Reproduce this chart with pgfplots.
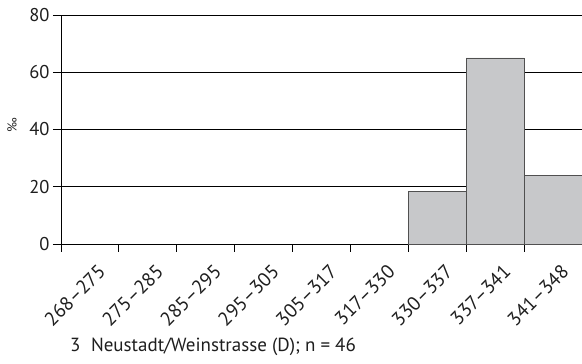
\documentclass[border=0pt]{standalone}
\usepackage{fontspec}
\setmainfont{PT Sans}
\usepackage{pgfplots}
\pgfplotsset{compat=1.18}
\definecolor{barfill}{RGB}{199,200,202}
\definecolor{bardraw}{RGB}{80,80,80}
\definecolor{txt}{RGB}{30,30,30}
\begin{document}
\begin{tikzpicture}
\begin{axis}[
  scale only axis,
  width=521pt, height=229pt,
  xmin=0, xmax=9, ymin=0, ymax=80,
  axis x line=bottom, axis y line=left,
  axis line style={-, black, line width=0.8pt},
  tick align=outside,
  major tick length=8pt,
  tick style={black, line width=0.8pt},
  xtick={0,1,2,3,4,5,6,7,8,9},
  xticklabels={268–275,275–285,285–295,295–305,305–317,317–330,330–337,337–341,341–348,},
  x tick label as interval,
  xticklabel style={xshift=7pt, yshift=-11pt, rotate=45, anchor=north east, font=\fontsize{19.5}{21}\selectfont, inner sep=0pt, text=txt},
  ytick={0,20,40,60,80},
  yticklabel style={font=\fontsize{18.5}{20}\selectfont, text=txt},
  ymajorgrids,
  grid style={black, line width=0.8pt},
  /pgf/number format/assume math mode=true,
  clip=false,
]
\addplot[ybar interval, fill=barfill, draw=bardraw, line width=0.8pt] coordinates {(6,18.5) (7,65) (8,24) (9,24)};
\end{axis}
\node[rotate=90, font=\fontsize{13}{15}\selectfont, text=txt] at (-49pt,119pt) {‰};
\node[anchor=base west, font=\fontsize{19}{21}\selectfont, text=txt, inner sep=0pt] at (9pt,-108pt) {3\hspace{0.55em}Neustadt/Weinstrasse (D); n = 46};
\pgfresetboundingbox
\useasboundingbox (-61pt,-120pt) rectangle (521pt,244pt);
\end{tikzpicture}
\end{document}
